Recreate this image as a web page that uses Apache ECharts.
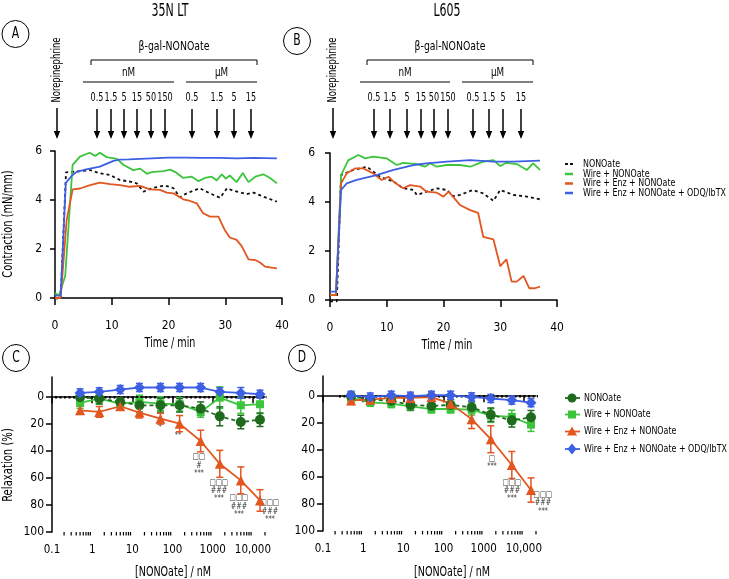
<!DOCTYPE html>
<html><head><meta charset="utf-8">
<script src="https://cdn.jsdelivr.net/npm/echarts@6/dist/echarts.min.js"></script>
<style>html,body{margin:0;padding:0;background:#fff}#c{width:729px;height:579px}</style>
</head><body><div id="c"></div><script>
const FONT = "'Liberation Sans Narrow','DejaVu Sans Condensed','Liberation Sans',Arial,sans-serif";
const names = ['NONOate', 'Wire + NONOate', 'Wire + Enz + NONOate', 'Wire + Enz + NONOate + ODQ/IbTX'];
const colors = ['#111111', '#3cc43c', '#e2561f', '#3d5fe3'];
const dotColors = ['#1e6b1e', '#3cc43c', '#e2561f', '#3d5fe3'];
const symbols = ['circle', 'rect', 'triangle', 'diamond'];

// Panel A (35N LT) time courses: [time (min), contraction (mN/mm)]
const A_NONOate = [[0,0.0],[1,-0.05],[1.94,5.13],[3.8,5.16],[6.2,5.22],[7.9,5.09],[9.7,5.02],[11.4,4.82],[13.2,4.75],[14.4,4.68],[15.6,4.34],[17.3,4.5],[19.4,4.59],[20.9,4.48],[22.0,4.11],[23.2,4.27],[25.5,4.48],[27.3,4.27],[29.1,4.09],[30.3,4.48],[31.4,4.38],[33.8,4.24],[35.0,4.3],[36.7,4.14],[39.1,3.93]];
const A_Wire = [[0,0.2],[0.7,0.1],[1.8,0.9],[3.1,5.43],[4.4,5.77],[6.1,5.93],[7.1,5.8],[7.9,5.93],[9.1,5.75],[10.9,5.68],[12.1,5.43],[13.8,5.22],[15.0,5.28],[16.2,5.07],[17.0,5.14],[19.1,5.18],[20.3,5.24],[21.2,5.14],[22.6,4.9],[24.1,4.95],[25.3,4.77],[26.4,4.9],[27.6,4.95],[28.5,4.8],[29.4,5.05],[30.1,4.87],[30.8,5.0],[32.0,4.73],[33.1,5.1],[34.1,4.73],[35.3,4.95],[36.7,5.05],[37.9,4.9],[39.1,4.68]];
const A_Enz = [[0,0.0],[1,0.0],[2.05,3.18],[3.1,4.43],[4.4,4.47],[6.2,4.61],[7.9,4.71],[9.7,4.65],[11.45,4.61],[13.2,4.54],[15.0,4.58],[16.7,4.43],[18.5,4.41],[19.7,4.3],[20.9,4.27],[22.6,4.03],[23.8,3.96],[25.0,3.86],[26.1,3.46],[27.3,3.32],[28.8,3.32],[29.9,2.78],[30.8,2.47],[32.0,2.37],[32.9,2.12],[34.1,1.58],[35.3,1.55],[36.2,1.44],[37.0,1.28],[39.1,1.21]];
const A_ODQ = [[0,0.1],[1,0.1],[1.9,4.7],[3.0,5.0],[3.8,5.15],[5.5,5.25],[7.9,5.36],[10.3,5.6],[11.4,5.65],[13,5.66],[15,5.68],[17,5.7],[20,5.73],[23,5.73],[26,5.72],[29,5.72],[32,5.7],[35,5.72],[39.1,5.7]];

// Panel B (L605) time courses
const B_NONOate = [[0,-0.05],[1.2,-0.05],[1.95,5.1],[4.1,5.31],[6.5,5.44],[8.8,5.03],[11.2,4.83],[12.9,4.56],[14.7,4.49],[15.3,4.29],[17.0,4.42],[18.8,4.56],[20.6,4.49],[21.7,4.24],[22.9,4.29],[25.2,4.49],[27.0,4.35],[28.8,4.05],[30.0,4.49],[32.3,4.29],[34.7,4.22],[37.0,4.11]];
const B_Wire = [[0,0.2],[1.06,0.2],[1.95,5.1],[3.2,5.7],[5.0,5.92],[6.2,5.78],[7.6,5.85],[10.0,5.78],[11.75,5.51],[12.9,5.6],[15.3,5.55],[16.75,5.44],[17.6,5.58],[18.8,5.44],[20.6,5.51],[22.9,5.51],[24.7,5.44],[27.0,5.65],[28.8,5.71],[30.0,5.47],[31.1,5.6],[32.9,5.55],[34.7,5.31],[35.8,5.58],[37.0,5.31]];
const B_Enz = [[0,0.2],[1.06,0.2],[1.95,4.76],[2.95,5.17],[4.4,5.37],[5.9,5.37],[7.6,5.17],[9.1,4.9],[10.3,5.03],[11.2,4.83],[12.9,4.56],[14.1,4.69],[15.9,4.63],[17.0,4.42],[18.8,4.38],[20.0,4.22],[20.9,4.42],[22.9,3.88],[24.7,3.67],[26.1,3.56],[27.0,2.58],[28.8,2.47],[30.0,1.38],[31.1,1.66],[32.0,0.75],[32.9,0.75],[34.1,0.98],[35.1,0.48],[36.1,0.48],[37.0,0.55]];
const B_ODQ = [[0,0.34],[1.06,0.34],[1.95,4.49],[2.95,4.76],[4.7,4.9],[8.2,5.1],[11.2,5.31],[14.7,5.51],[17.0,5.58],[20.6,5.65],[24.7,5.71],[28.8,5.65],[32.3,5.65],[37.0,5.69]];

// Concentration-response (relaxation %, mean and SEM)
const conc = [0.5, 1.5, 5, 15, 50, 150, 500, 1500, 5000, 15000];
const C_NONOate = [0.0, 1.0, 3.5, 6, 6, 6, 8.5, 14.2, 18.4, 16.7];
const C_NONOate_err = [3, 4, 3, 5, 5, 5, 5, 7, 5, 5];
const C_Wire = [4.2, 1.0, 4.7, 3.5, 4.7, 5.2, 10.9, 0.3, 6, 5.2];
const C_Wire_err = [4, 4, 3, 5, 5, 5, 4, 8, 6, 7];
const C_Enz = [9.7, 10.9, 6.7, 11.4, 15.9, 19.6, 32.5, 49.4, 61.7, 76.6];
const C_Enz_err = [3, 4, 2, 4, 4, 6, 8, 10, 10, 8];
const C_ODQ = [-3.2, -4, -5.7, -7.2, -7.2, -7.2, -7.2, -4, -3.2, -2.2];
const C_ODQ_err = [3, 3, 3, 3, 3, 3, 3, 3, 4, 3];

const D_NONOate = [0, 2.4, 3.4, 6.5, 7.2, 6.5, 8.2, 13.7, 17.9, 15.6];
const D_NONOate_err = [3, 3, 3, 4, 4, 4, 4, 5, 5, 5];
const D_Wire = [1.3, 4.5, 5.5, 7.5, 9.5, 9.5, 10, 14.4, 15.4, 21.1];
const D_Wire_err = [3, 3, 3, 3, 3, 3, 4, 5, 5, 5];
const D_Enz = [3.1, 2.6, 1.3, 1.3, 0.6, 5.5, 17, 31.9, 51, 69.6];
const D_Enz_err = [3, 3, 3, 3, 3, 3, 7, 10, 10, 9];
const D_ODQ = [-0.7, 0.6, -0.7, 0, -0.7, -0.7, 0.5, 1.7, 2.9, 4.8];
const D_ODQ_err = [3, 3, 3, 3, 3, 3, 3, 3, 3, 3];

const xTickValues = [0.1, 1, 10, 100, 1000, 10000];
const yRelaxTicks = [0, 20, 40, 60, 80, 100];
const doseLabelsNM = ['0.5', '1.5', '5', '15', '50', '150'];
const doseLabelsUM = ['0.5', '1.5', '5', '15'];

const chart = echarts.init(document.getElementById('c'), null, {renderer: 'canvas'});

const axisLine = {lineStyle: {color: '#000', width: 1.5}};
const axisTick = (len) => ({length: len, lineStyle: {color: '#000', width: 1.5}});
const lbl = (margin, fs) => ({margin: margin, fontSize: fs, fontFamily: FONT, color: '#000'});

function timeAxes(gi, yOff, xOff) {
  return {
    x: {gridIndex: gi, type: 'value', min: 0, max: 40, interval: 10, offset: xOff,
        axisLine: axisLine, axisTick: axisTick(7), axisLabel: lbl(14, 12), splitLine: {show: false}},
    y: {gridIndex: gi, type: 'value', min: 0, max: 6, interval: 2, offset: yOff,
        axisLine: axisLine, axisTick: axisTick(5), axisLabel: lbl(8, 12), splitLine: {show: false}}
  };
}
function doseAxes(gi) {
  return {
    x: {gridIndex: gi, type: 'log', logBase: 10, min: 0.1, max: 20000,
        axisLine: axisLine,
        axisTick: Object.assign(axisTick(6), {customValues: xTickValues}),
        axisLabel: Object.assign(lbl(12, 11.5), {customValues: xTickValues,
          formatter: v => { const n = Number(Number(v).toPrecision(3)); return n >= 10000 ? n.toLocaleString('en-US') : String(n); }}),
        splitLine: {show: false}},
    y: {gridIndex: gi, type: 'value', inverse: true, min: -15, max: 100,
        axisLine: axisLine,
        axisTick: Object.assign(axisTick(6), {customValues: yRelaxTicks}),
        axisLabel: Object.assign(lbl(8, 12), {customValues: yRelaxTicks}),
        splitLine: {show: false}}
  };
}
const aA = timeAxes(0, 5, 8), aB = timeAxes(1, 7, 8), aC = doseAxes(2), aD = doseAxes(3);

const series = [];
function timeSeries(idx, data) {
  [data.NONOate, data.Wire, data.Enz, data.ODQ].forEach((d, i) => {
    series.push({
      type: 'line', name: names[i], xAxisIndex: idx, yAxisIndex: idx, data: d,
      symbol: 'none', clip: false, z: i === 3 ? 3 : 2,
      lineStyle: {color: colors[i], width: 1.8, type: i === 0 ? [3, 3] : 'solid'},
      itemStyle: {color: colors[i]}
    });
  });
}
timeSeries(0, {NONOate: A_NONOate, Wire: A_Wire, Enz: A_Enz, ODQ: A_ODQ});
timeSeries(1, {NONOate: B_NONOate, Wire: B_Wire, Enz: B_Enz, ODQ: B_ODQ});

// minor tick positions on the log axes (2..9 x 10^k)
const minorVals = [];
for (let e = -1; e <= 4; e++) for (let m = 2; m <= 9; m++) { const v = m * Math.pow(10, e); if (v <= 20000) minorVals.push([v, 100]); }

function doseSeries(idx, means, errs) {
  series.push({type: 'line', name: 'zero' + idx, xAxisIndex: idx, yAxisIndex: idx,
    data: idx === 2 ? [[0.119, 0], [44000, 0]] : [[0.25, 0], [27000, 0]],
    symbol: 'none', clip: false, silent: true, z: 2,
    lineStyle: {color: '#000', width: 2.5, type: [2, 2.5]}});
  series.push({type: 'custom', name: 'minor' + idx, xAxisIndex: idx, yAxisIndex: idx,
    data: minorVals, clip: false, silent: true,
    renderItem: (p, api) => { const c = api.coord([api.value(0), 100]);
      return {type: 'line', shape: {x1: c[0], y1: c[1], x2: c[0], y2: c[1] + 3.5}, style: {stroke: '#000', lineWidth: 1.2}}; }});
  [1, 0, 2, 3].forEach(i => {
    const d = conc.map((c, k) => [c, means[i][k], errs[i][k]]);
    series.push({type: 'custom', name: 'err' + idx + '_' + i, xAxisIndex: idx, yAxisIndex: idx,
      data: d, clip: false, silent: true, z: 3,
      renderItem: (p, api) => {
        const x = api.value(0), m = api.value(1), e = api.value(2);
        const p1 = api.coord([x, m - e]), p2 = api.coord([x, m + e]);
        const st = {stroke: dotColors[i], lineWidth: 1.5};
        return {type: 'group', children: [
          {type: 'line', shape: {x1: p1[0], y1: p1[1], x2: p2[0], y2: p2[1]}, style: st},
          {type: 'line', shape: {x1: p1[0] - 3.5, y1: p1[1], x2: p1[0] + 3.5, y2: p1[1]}, style: st},
          {type: 'line', shape: {x1: p2[0] - 3.5, y1: p2[1], x2: p2[0] + 3.5, y2: p2[1]}, style: st}
        ]};
      }});
    series.push({type: 'line', name: names[i] + ' ', xAxisIndex: idx, yAxisIndex: idx,
      data: conc.map((c, k) => [c, means[i][k]]), clip: false, z: 4,
      symbol: symbols[i], symbolSize: i === 0 ? 10 : (i === 1 ? 8 : (i === 2 ? 10 : 11)), showSymbol: true,
      lineStyle: {color: dotColors[i], width: 1.8, type: i === 0 ? [4, 3] : 'solid'},
      itemStyle: {color: dotColors[i]}});
  });
}
doseSeries(2, [C_NONOate, C_Wire, C_Enz, C_ODQ], [C_NONOate_err, C_Wire_err, C_Enz_err, C_ODQ_err]);
doseSeries(3, [D_NONOate, D_Wire, D_Enz, D_ODQ], [D_NONOate_err, D_Wire_err, D_Enz_err, D_ODQ_err]);

// ---------- annotations (graphic) ----------
const g = [];
const txt = (x, y, t, size, sx, opt) => g.push(Object.assign({type: 'text', x: x, y: y, scaleX: sx,
  style: {text: t, fontSize: size, fontFamily: FONT, fill: '#000', align: 'center', verticalAlign: 'middle'}}, opt || {}));
const ltxt = (x, y, t, size, sx) => g.push({type: 'text', x: x, y: y, scaleX: sx,
  style: {text: t, fontSize: size, fontFamily: FONT, fill: '#000', align: 'left', verticalAlign: 'middle'}});
const ln = (x1, y1, x2, y2, w, c) => g.push({type: 'line', shape: {x1, y1, x2, y2}, style: {stroke: c || '#000', lineWidth: w || 1}});
const arrow = (x, y1, y2) => { ln(x, y1, x, y2 - 7, 1.5);
  g.push({type: 'polygon', shape: {points: [[x - 3.2, y2 - 8], [x + 3.2, y2 - 8], [x, y2]]}, style: {fill: '#000'}}); };
const circ = (cx, cy, t) => { g.push({type: 'circle', shape: {cx, cy, r: 13.5}, style: {fill: 'none', stroke: '#000', lineWidth: 1}}); txt(cx, cy, t, 15, 0.8); };

function header(p) {
  txt(p.titleX, 12, p.title, 17, 0.72);
  circ(p.cx, p.cy, p.letter);
  txt(p.neX, 70, 'Norepinephrine', 12, 0.78, {rotation: Math.PI / 2});
  arrow(p.neX, 108, 139);
  txt((p.br[0] + p.br[1]) / 2, 47, 'β-gal-NONOate', 13, 0.8);
  g.push({type: 'polyline', shape: {points: [[p.br[0], 65], [p.br[0], 60], [p.br[1], 60], [p.br[1], 65]]}, style: {stroke: '#000', lineWidth: 1, fill: 'none'}});
  ln(p.nm[0], 82, p.nm[1], 82, 1); txt((p.nm[0] + p.nm[1]) / 2, 73, 'nM', 12.5, 0.78);
  ln(p.um[0], 82, p.um[1], 82, 1); txt((p.um[0] + p.um[1]) / 2, 73, 'μM', 12.5, 0.78);
  const labs = doseLabelsNM.concat(doseLabelsUM);
  labs.forEach((l, k) => { txt(p.arrows[k], 98, l, 12.5, 0.72); arrow(p.arrows[k], 109, 139); });
}
header({title: '35N LT', titleX: 170, cx: 15.5, cy: 34, letter: 'A', neX: 57, br: [91, 257], nm: [83, 174], um: [186, 257],
  arrows: [97, 111, 124, 137, 151, 165, 192, 217, 234, 251]});
header({title: 'L605', titleX: 447, cx: 297, cy: 41, letter: 'B', neX: 333, br: [367, 533], nm: [360, 450], um: [462, 533],
  arrows: [374, 390, 407, 421, 434, 448, 473, 489, 503, 521]});

circ(16, 358, 'C');
circ(302, 358, 'D');

txt(8, 224, 'Contraction (mN/mm)', 14, 0.78, {rotation: Math.PI / 2});
txt(8, 465, 'Relaxation (%)', 14, 0.8, {rotation: Math.PI / 2});
txt(170, 343, 'Time / min', 14, 0.76);
txt(447, 345, 'Time / min', 14, 0.76);
txt(173, 572, '[NONOate] / nM', 14, 0.76);
txt(452, 572, '[NONOate] / nM', 14, 0.76);

// legends
const leg1Y = [164, 174, 183.5, 193];
names.forEach((n, i) => {
  const y = leg1Y[i];
  if (i === 0) { ln(565, y, 568, y, 2, colors[0]); ln(570, y, 573, y, 2, colors[0]); }
  else ln(565, y, 573, y, 2.5, colors[i]);
  ltxt(583, y, n, 11, 0.8);
});
const leg2Y = [398, 414.5, 431.5, 449];
names.forEach((n, i) => {
  const y = leg2Y[i], cx = 572, c = dotColors[i];
  ln(565, y, 580, y, 1.8, c);
  if (i === 0) g.push({type: 'circle', shape: {cx, cy: y, r: 4.5}, style: {fill: c}});
  if (i === 1) g.push({type: 'rect', shape: {x: cx - 4, y: y - 4, width: 8, height: 8}, style: {fill: c}});
  if (i === 2) g.push({type: 'polygon', shape: {points: [[cx, y - 5], [cx + 5, y + 4], [cx - 5, y + 4]]}, style: {fill: c}});
  if (i === 3) g.push({type: 'polygon', shape: {points: [[cx, y - 5.5], [cx + 4.5, y], [cx, y + 5.5], [cx - 4.5, y]]}, style: {fill: c}});
  ltxt(584, y, n, 11, 0.8);
});

const statMarks = [[160,428,'*'],[178,436,'**'],[199,457,'□□'],[199,466,'#'],[199,474,'***'],[219,483,'□□□'],[219,491,'###'],[219,499,'***'],
  [239,498,'□□□'],[239,507,'###'],[239,515,'***'],[270,503,'□□□'],[270,512,'###'],[270,520,'***'],
  [492,459,'□'],[492,467,'***'],[512,483,'□□□'],[512,491,'###'],[512,499,'***'],[543,495,'□□□'],[543,503,'###'],[543,512,'***']];
statMarks.forEach(s => g.push({type: 'text', x: s[0], y: s[1], scaleX: 0.85,
  style: {text: s[2], fontSize: 8.5, fontFamily: FONT, fill: '#333', align: 'center', verticalAlign: 'middle'}}));

chart.setOption({
  animation: false,
  backgroundColor: '#fff',
  textStyle: {fontFamily: FONT},
  grid: [
    {left: 55, top: 151, width: 227, height: 147},
    {left: 330, top: 153, width: 227, height: 147},
    {left: 52, top: 377, width: 213, height: 155},
    {left: 323, top: 376, width: 213, height: 155}
  ],
  xAxis: [aA.x, aB.x, aC.x, aD.x],
  yAxis: [aA.y, aB.y, aC.y, aD.y],
  series: series,
  graphic: g
});
</script></body></html>
